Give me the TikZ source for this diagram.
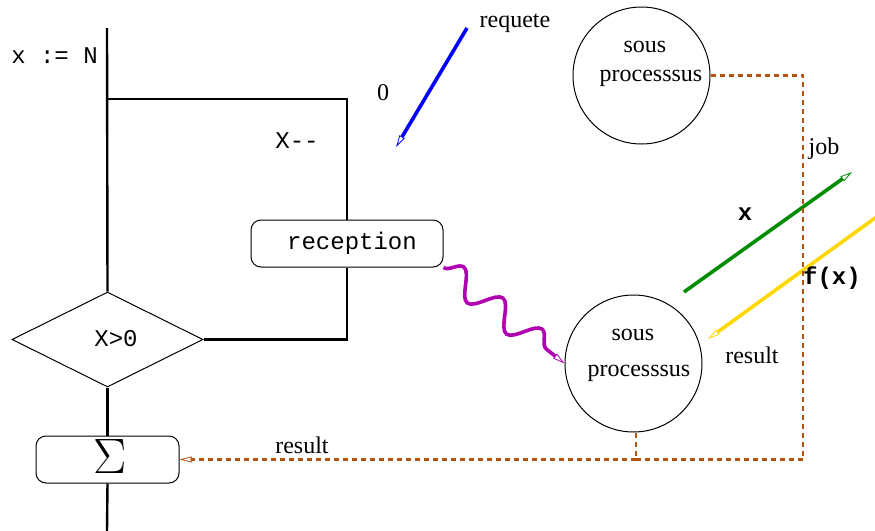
\documentclass[tikz,border=0pt]{standalone}
\usepackage{fontspec}
\setmainfont{Liberation Serif}
\setmonofont{Liberation Mono}
\usepackage{xcolor}
\usepackage{tikz}
\usetikzlibrary{arrows.meta,shapes.geometric,decorations.pathmorphing}
\definecolor{jobbrown}{RGB}{180,82,16}
\definecolor{msgblue}{RGB}{0,0,255}
\definecolor{msggreen}{RGB}{0,140,0}
\definecolor{msgyellow}{RGB}{255,215,0}
\definecolor{msgpurple}{RGB}{176,0,176}
\newcommand\fcsize{\fontsize{12}{14}\selectfont}
\tikzset{
  fcpic/.style={x=0.5pt, y=-0.5pt, font=\fcsize},
  fc line/.style={line width=1.2pt, black},
  fc box/.style={draw, rounded corners=5pt, line width=0.5pt, minimum height=23.5pt, inner sep=0pt},
  fc test/.style={draw, diamond, line width=0.5pt, minimum width=95.5pt, minimum height=47.5pt, inner sep=0pt},
  fc proc/.style={draw, circle, line width=0.5pt, minimum size=68.5pt, inner sep=0pt},
  fc txt/.style={font=\fcsize, anchor=base, inner sep=0pt},
  fc tt/.style={font=\fcsize\ttfamily},
  fc ttb/.style={font=\fcsize\ttfamily\bfseries},
  fc tip/.style={-{Triangle[open, length=6pt, width=3pt, line width=0.4pt]}},
  fc msg/.style={fc tip, line width=1.8pt},
  fc job/.style={draw=jobbrown, line width=1.2pt, dash pattern=on 2.5pt off 2pt},
  fc wave/.style={fc msg, draw=msgpurple, decorate,
                  decoration={snake, amplitude=6.5pt, segment length=25pt, post length=4pt}},
}
\begin{document}
\begin{tikzpicture}[fcpic]
\useasboundingbox (0,0) rectangle (875,531);
% ---- main flow ----
\coordinate (top) at (107,28); \coordinate (bot) at (107,531); \coordinate (lp) at (107,99);
\node[fc txt, fc tt] (init) at (54.5,63) {x := N};
\node[fc test] (test) at (107.5,339.5) {};
\node[fc txt, fc tt] (cond) at (116,346) {X>0};
\node[fc box, fc tt, minimum width=96pt] (recv) at (347,243.5) {\hspace*{5pt}reception};
\node[fc box, minimum width=71.5pt] (sum) at (107.5,459.5) {};
\node[font=\Huge, inner sep=0pt] (sumsym) at (110,456) {$\Sigma$};
\node[fc txt, fc tt] (dec) at (297,148) {X-{}-};
\draw[fc line] (top) -- (test.north); \draw[fc line] (test.south) -- (sum.north); \draw[fc line] (sum.south) -- (bot);
% ---- loop ----
\draw[fc line] (lp) -| (recv.north); \draw[fc line] (recv.south) |- (test.east);
% ---- sous processus ----
\node[fc proc] (pu) at (641.5,75.5) {};
\node[fc txt] (pu1) at (645,52) {sous}; \node[fc txt] (pu2) at (651,81) {processsus};
\node[fc proc] (pl) at (633.5,363.5) {};
\node[fc txt] (pl1) at (633,340) {sous}; \node[fc txt] (pl2) at (639,376) {processsus};
% ---- messages ----
\coordinate (rq0) at (467,28); \coordinate (rq1) at (396,147);
\draw[fc msg, draw=msgblue] (rq0) -- (rq1);
\node[fc txt] (rqlab) at (515,27) {requete}; \node[fc txt] (zero) at (383,100) {0};
\draw[fc wave] (recv.south east) -- (pl.west);
\coordinate (x0) at (684,292); \coordinate (x1) at (852,172);
\draw[fc msg, draw=msggreen] (x0) -- (x1);
\node[fc txt, fc ttb] (xlab) at (745,220) {x};
\coordinate (f0) at (882,213); \coordinate (f1) at (708,339);
\draw[fc msg, draw=msgyellow] (f0) -- (f1);
\node[fc txt, fc ttb] (flab) at (832,284) {f(x)};
\node[fc txt] (reslab) at (752,363) {result};
% ---- job / result ----
\coordinate (jr) at (803,75.5); \coordinate (jb) at (803,459.5); \coordinate (js) at (636,459.5);
\draw[fc job] (pu.east) -- (jr) -- (jb) -- (js);
\draw[fc job, fc tip] (js) -- (sum.east);
\draw[fc job] (pl.south -| js) -- (js);
\node[fc txt] (joblab) at (824,154) {job};
\node[fc txt] (sumlab) at (302,453) {result};
\end{tikzpicture}
\end{document}
